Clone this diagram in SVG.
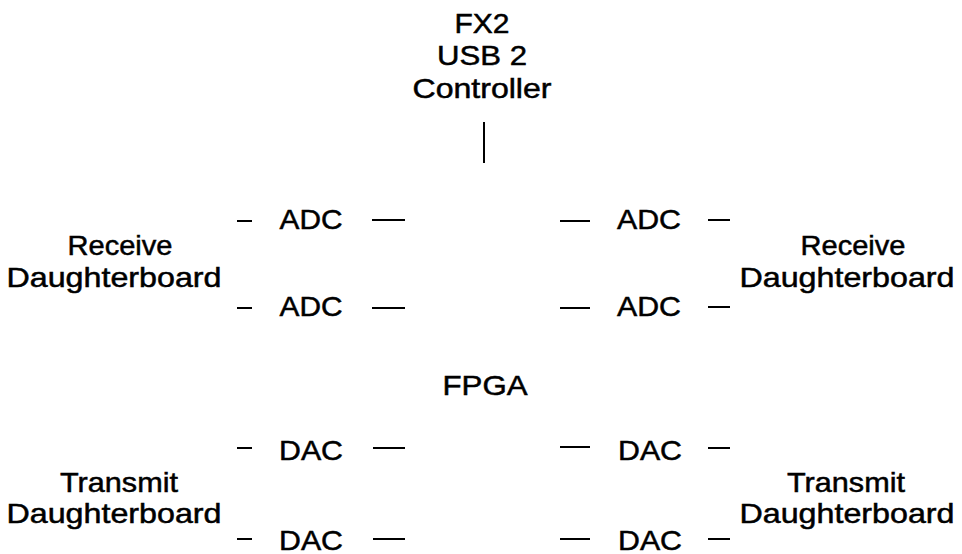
<svg xmlns="http://www.w3.org/2000/svg" width="962" height="554" viewBox="0 0 962 554">
<style>
text{font-family:"Liberation Sans",Arial,sans-serif;font-size:28px;fill:#000;stroke:#000;stroke-width:0.5;text-anchor:middle}
.c line{stroke:#000;stroke-width:2}
</style>
<rect width="962" height="554" fill="#fff"/>
<g id="fx2">
<text x="482" y="33" textLength="55" lengthAdjust="spacingAndGlyphs">FX2</text>
<text x="482" y="65" textLength="90" lengthAdjust="spacingAndGlyphs">USB 2</text>
<text x="482" y="98" textLength="139" lengthAdjust="spacingAndGlyphs">Controller</text>
</g>
<g id="fpga"><text x="485" y="395" textLength="85" lengthAdjust="spacingAndGlyphs">FPGA</text></g>
<g id="rx-left">
<text x="120" y="255" textLength="105" lengthAdjust="spacingAndGlyphs">Receive</text>
<text x="114" y="287" textLength="215" lengthAdjust="spacingAndGlyphs">Daughterboard</text>
</g>
<g id="rx-right">
<text x="853" y="255" textLength="105" lengthAdjust="spacingAndGlyphs">Receive</text>
<text x="847" y="287" textLength="215" lengthAdjust="spacingAndGlyphs">Daughterboard</text>
</g>
<g id="tx-left">
<text x="119" y="492" textLength="118" lengthAdjust="spacingAndGlyphs">Transmit</text>
<text x="114" y="523" textLength="215" lengthAdjust="spacingAndGlyphs">Daughterboard</text>
</g>
<g id="tx-right">
<text x="846" y="492" textLength="118" lengthAdjust="spacingAndGlyphs">Transmit</text>
<text x="847" y="523" textLength="215" lengthAdjust="spacingAndGlyphs">Daughterboard</text>
</g>
<g id="adc-l1"><text x="311" y="229" textLength="63" lengthAdjust="spacingAndGlyphs">ADC</text></g>
<g id="adc-l2"><text x="311" y="316" textLength="63" lengthAdjust="spacingAndGlyphs">ADC</text></g>
<g id="adc-r1"><text x="649" y="229" textLength="64" lengthAdjust="spacingAndGlyphs">ADC</text></g>
<g id="adc-r2"><text x="649" y="316" textLength="64" lengthAdjust="spacingAndGlyphs">ADC</text></g>
<g id="dac-l1"><text x="311" y="460" textLength="64" lengthAdjust="spacingAndGlyphs">DAC</text></g>
<g id="dac-l2"><text x="311" y="550" textLength="64" lengthAdjust="spacingAndGlyphs">DAC</text></g>
<g id="dac-r1"><text x="650" y="460" textLength="64" lengthAdjust="spacingAndGlyphs">DAC</text></g>
<g id="dac-r2"><text x="650" y="550" textLength="64" lengthAdjust="spacingAndGlyphs">DAC</text></g>
<g id="connectors" class="c">
<line x1="484" y1="122" x2="484" y2="163"/>
<line x1="237" y1="221" x2="252" y2="221"/>
<line x1="372" y1="220" x2="405" y2="220"/>
<line x1="237" y1="308" x2="252" y2="308"/>
<line x1="372" y1="308" x2="405" y2="308"/>
<line x1="560" y1="221" x2="590" y2="221"/>
<line x1="708" y1="220" x2="730" y2="220"/>
<line x1="560" y1="308" x2="590" y2="308"/>
<line x1="708" y1="307" x2="730" y2="307"/>
<line x1="237" y1="448" x2="252" y2="448"/>
<line x1="373" y1="448" x2="405" y2="448"/>
<line x1="237" y1="539" x2="252" y2="539"/>
<line x1="373" y1="539" x2="405" y2="539"/>
<line x1="560" y1="447" x2="590" y2="447"/>
<line x1="708" y1="448" x2="730" y2="448"/>
<line x1="560" y1="539" x2="590" y2="539"/>
<line x1="708" y1="539" x2="730" y2="539"/>
</g>
</svg>
